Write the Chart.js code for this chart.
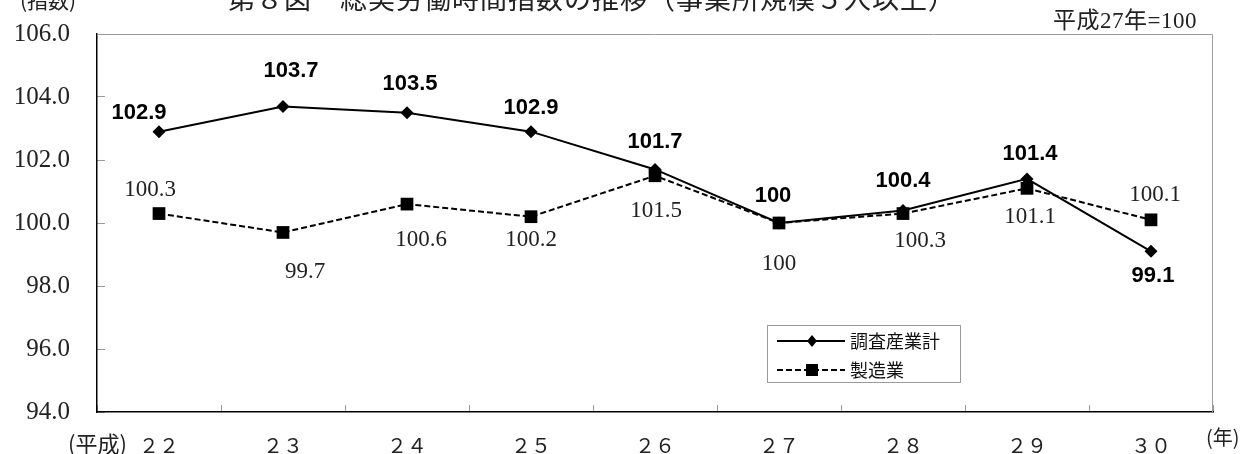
<!DOCTYPE html>
<html lang="ja">
<head>
<meta charset="utf-8">
<title>第８図 総実労働時間指数の推移</title>
<script src="https://cdn.jsdelivr.net/npm/chart.js@4.4.1/dist/chart.umd.min.js"></script>
<style>
  body { margin: 0; background: #fff; }
  .wrap { position: relative; width: 1241px; height: 454px; overflow: hidden; }
  #hoursChart { position: absolute; left: 0; top: 0; }
  .note { position: absolute; color: #222; font-family: "Noto Sans CJK JP", sans-serif; white-space: nowrap; line-height: 1; }
  .title { left: 228px; top: -16px; font-size: 27px; letter-spacing: 1px; }
  .unit { left: 20px; top: -11px; font-size: 21px; }
  .base { left: 1053px; top: 9px; font-size: 23px; letter-spacing: 0.5px; font-family: "Liberation Serif", "Noto Sans CJK JP", serif; }
  .era { left: 68px; top: 431px; font-size: 22px; }
  .year { left: 1206px; top: 427px; font-size: 20px; }
</style>
</head>
<body>
<div class="wrap">
  <canvas id="hoursChart" width="1241" height="454"></canvas>
  <div class="note unit">(指数)</div>
  <div class="note title">第８図　総実労働時間指数の推移（事業所規模５人以上）</div>
  <div class="note base">平成27年=100</div>
  <div class="note era">(平成)</div>
  <div class="note year">(年)</div>
</div>
<script>
// 年（平成）
const years = ['２２', '２３', '２４', '２５', '２６', '２７', '２８', '２９', '３０'];
// 調査産業計
const totalIndex = [102.9, 103.7, 103.5, 102.9, 101.7, 100, 100.4, 101.4, 99.1];
// 製造業
const mfgIndex = [100.3, 99.7, 100.6, 100.2, 101.5, 100, 100.3, 101.1, 100.1];
// 縦軸目盛
const yMin = 94;
const yMax = 106;
const yStep = 2;

// value label offsets from each point, px [dx, dy]
const totalLabelShift = [[-20, -19], [8, -36], [3, -29], [0, -24], [0, -28], [-6, -27], [0, -29], [3, -25], [2, 25]];
const mfgLabelShift = [[-9, -24], [22, 40], [14, 36], [0, 23], [1, 35], [0, 41], [17, 27], [3, 29], [4, -25]];

const fmtLabel = v => Number.isInteger(v) ? String(v) : v.toFixed(1);

// gray top/right frame of the plot area
const frameLines = {
  id: 'frameLines',
  beforeDatasetsDraw(chart) {
    const { ctx, chartArea: a } = chart;
    ctx.save();
    ctx.strokeStyle = '#9a9a9a';
    ctx.lineWidth = 1;
    ctx.beginPath();
    ctx.moveTo(a.left, a.top + 0.5);
    ctx.lineTo(a.right - 0.5, a.top + 0.5);
    ctx.lineTo(a.right - 0.5, a.bottom);
    ctx.stroke();
    ctx.restore();
  }
};

const valueLabels = {
  id: 'valueLabels',
  afterDatasetsDraw(chart) {
    const ctx = chart.ctx;
    const styles = [
      { font: 'bold 22px "Liberation Sans", Arial, sans-serif', color: '#000', shift: totalLabelShift },
      { font: '23px "Liberation Serif", "Times New Roman", serif', color: '#222', shift: mfgLabelShift }
    ];
    ctx.save();
    ctx.textAlign = 'center';
    ctx.textBaseline = 'middle';
    chart.data.datasets.forEach((ds, di) => {
      const st = styles[di];
      ctx.font = st.font;
      ctx.fillStyle = st.color;
      chart.getDatasetMeta(di).data.forEach((pt, i) => {
        const [dx, dy] = st.shift[i];
        ctx.fillText(fmtLabel(ds.data[i]), pt.x + dx, pt.y + dy);
      });
    });
    ctx.restore();
  }
};

// legend box inside the plot
const boxLegend = {
  id: 'boxLegend',
  afterDraw(chart) {
    const ctx = chart.ctx;
    const box = { x: 767, y: 325, w: 193, h: 57 };
    ctx.save();
    ctx.fillStyle = '#fff';
    ctx.fillRect(box.x, box.y, box.w, box.h);
    ctx.strokeStyle = '#9a9a9a';
    ctx.lineWidth = 1;
    ctx.strokeRect(box.x + 0.5, box.y + 0.5, box.w, box.h);

    ctx.font = '18px "Noto Sans CJK JP", sans-serif';
    ctx.textBaseline = 'middle';
    ctx.textAlign = 'left';
    chart.data.datasets.forEach((ds, i) => {
      const y = box.y + 16 + i * 29;
      ctx.strokeStyle = '#000';
      ctx.lineWidth = 2;
      ctx.setLineDash(ds.borderDash || []);
      ctx.beginPath();
      ctx.moveTo(box.x + 10, y);
      ctx.lineTo(box.x + 78, y);
      ctx.stroke();
      ctx.setLineDash([]);
      ctx.fillStyle = '#000';
      const cx = box.x + 45;
      if (ds.pointStyle === 'rectRot') {
        ctx.beginPath();
        ctx.moveTo(cx, y - 6);
        ctx.lineTo(cx + 5, y);
        ctx.lineTo(cx, y + 6);
        ctx.lineTo(cx - 5, y);
        ctx.closePath();
        ctx.fill();
      } else {
        ctx.fillRect(cx - 6, y - 6, 12, 12);
      }
      ctx.fillStyle = '#111';
      ctx.fillText(ds.label, box.x + 83, y);
    });
    ctx.restore();
  }
};

new Chart(document.getElementById('hoursChart'), {
  type: 'line',
  data: {
    labels: years,
    datasets: [{
      label: '調査産業計',
      data: totalIndex,
      borderColor: '#000',
      borderWidth: 2,
      pointStyle: 'rectRot',
      pointRadius: 6.5,
      pointBackgroundColor: '#000',
      pointBorderColor: '#000',
      pointBorderWidth: 0,
      tension: 0
    }, {
      label: '製造業',
      data: mfgIndex,
      borderColor: '#000',
      borderWidth: 2,
      borderDash: [6, 3],
      pointStyle: 'rect',
      pointRadius: 9,
      pointBackgroundColor: '#000',
      pointBorderColor: '#000',
      pointBorderWidth: 0,
      tension: 0
    }]
  },
  options: {
    responsive: false,
    animation: false,
    layout: { padding: { left: 0, top: 34, right: 28, bottom: 0 } },
    scales: {
      x: {
        offset: true,
        grid: { offset: true, drawOnChartArea: false, tickLength: -7, color: '#9a9a9a' },
        border: { color: '#000', width: 1.5 },
        ticks: {
          padding: 28,
          color: '#222',
          font: { family: '"Noto Sans CJK JP", serif', size: 20 }
        },
        afterFit: s => { s.height = 42; s.paddingLeft = 0; s.paddingRight = 0; }
      },
      y: {
        min: yMin,
        max: yMax,
        grid: { drawOnChartArea: false, tickLength: -8, color: '#9a9a9a' },
        border: { color: '#000', width: 1.5 },
        ticks: {
          stepSize: yStep,
          padding: 35,
          color: '#222',
          font: { family: '"Liberation Serif", "Times New Roman", serif', size: 25 },
          callback: v => v.toFixed(1)
        },
        afterFit: s => { s.width = 97; s.paddingTop = 0; s.paddingBottom = 0; }
      }
    },
    plugins: {
      legend: { display: false },
      tooltip: { enabled: false }
    }
  },
  plugins: [frameLines, valueLabels, boxLegend]
});
</script>
</body>
</html>
